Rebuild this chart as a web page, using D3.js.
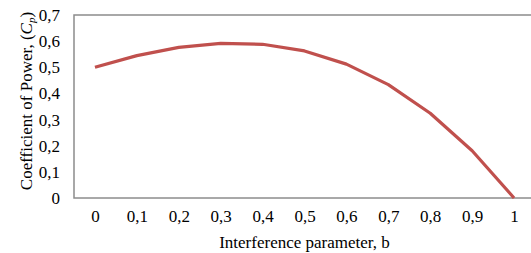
<!DOCTYPE html>
<html>
<head>
<meta charset="utf-8">
<script src="https://cdn.jsdelivr.net/npm/d3@7"></script>
<style>
  body { margin: 0; background: #fff; }
  text { font-family: "Liberation Serif", "Times New Roman", serif; fill: #000; }
</style>
</head>
<body>
<div id="chart"></div>
<script>
// Cp against interference parameter b
const bLabels = ["0", "0,1", "0,2", "0,3", "0,4", "0,5", "0,6", "0,7", "0,8", "0,9", "1"];
const cpValues = [0.5, 0.5445, 0.576, 0.5915, 0.588, 0.5625, 0.512, 0.4335, 0.324, 0.1805, 0];
const yTicks = [0, 0.1, 0.2, 0.3, 0.4, 0.5, 0.6, 0.7];

var width = 531;
var height = 253;
const margin = ({ top: 15, right: -4, bottom: 55, left: 74 });

var svg = d3.select("#chart").append("svg")
    .attr("width", width)
    .attr("height", height);

const x = d3.scalePoint()
    .domain(bLabels)
    .range([margin.left, width - margin.right])
    .padding(0.5);

const y = d3.scaleLinear()
    .domain([0, 0.7])
    .range([height - margin.bottom, margin.top]);

// plot frame
svg.append("rect")
    .attr("x", margin.left)
    .attr("y", margin.top)
    .attr("width", width - margin.right - margin.left)
    .attr("height", y(0) - margin.top)
    .attr("fill", "none")
    .attr("stroke", "#8c8c8c")
    .attr("stroke-width", 1.5);

// y axis labels
const fmt = d => d === 0 ? "0" : d3.format(".1f")(d).replace(".", ",");
svg.append("g")
    .attr("transform", `translate(${margin.left}, 0)`)
    .call(d3.axisLeft(y).tickValues(yTicks).tickFormat(fmt).tickSize(0).tickPadding(14))
    .call(g => g.select(".domain").remove())
    .selectAll("text")
    .style("font-size", "17px")
    .attr("font-family", null);

// x axis labels
svg.append("g")
    .attr("transform", `translate(0, ${y(0)})`)
    .call(d3.axisBottom(x).tickSize(0).tickPadding(12))
    .call(g => g.select(".domain").remove())
    .selectAll("text")
    .style("font-size", "17px")
    .attr("font-family", null);

// the curve
const line = d3.line()
    .x((d, i) => x(bLabels[i]))
    .y(d => y(d));

svg.append("path")
    .datum(cpValues)
    .attr("d", line)
    .attr("fill", "none")
    .attr("stroke", "#c0504d")
    .attr("stroke-width", 3.2)
    .attr("stroke-linejoin", "round");

// axis titles
svg.append("text")
    .attr("x", (margin.left + width - margin.right) / 2)
    .attr("y", 248)
    .attr("text-anchor", "middle")
    .style("font-size", "17px")
    .text("Interference parameter, b");

const yTitle = svg.append("text")
    .attr("transform", "translate(32, 101) rotate(-90)")
    .attr("text-anchor", "middle")
    .style("font-size", "17px");
yTitle.append("tspan").text("Coefficient of Power, (");
yTitle.append("tspan").style("font-style", "italic").text("C");
yTitle.append("tspan").attr("dy", 3).style("font-size", "11px").style("font-style", "italic").text("p");
yTitle.append("tspan").attr("dy", -3).text(")");
</script>
</body>
</html>
